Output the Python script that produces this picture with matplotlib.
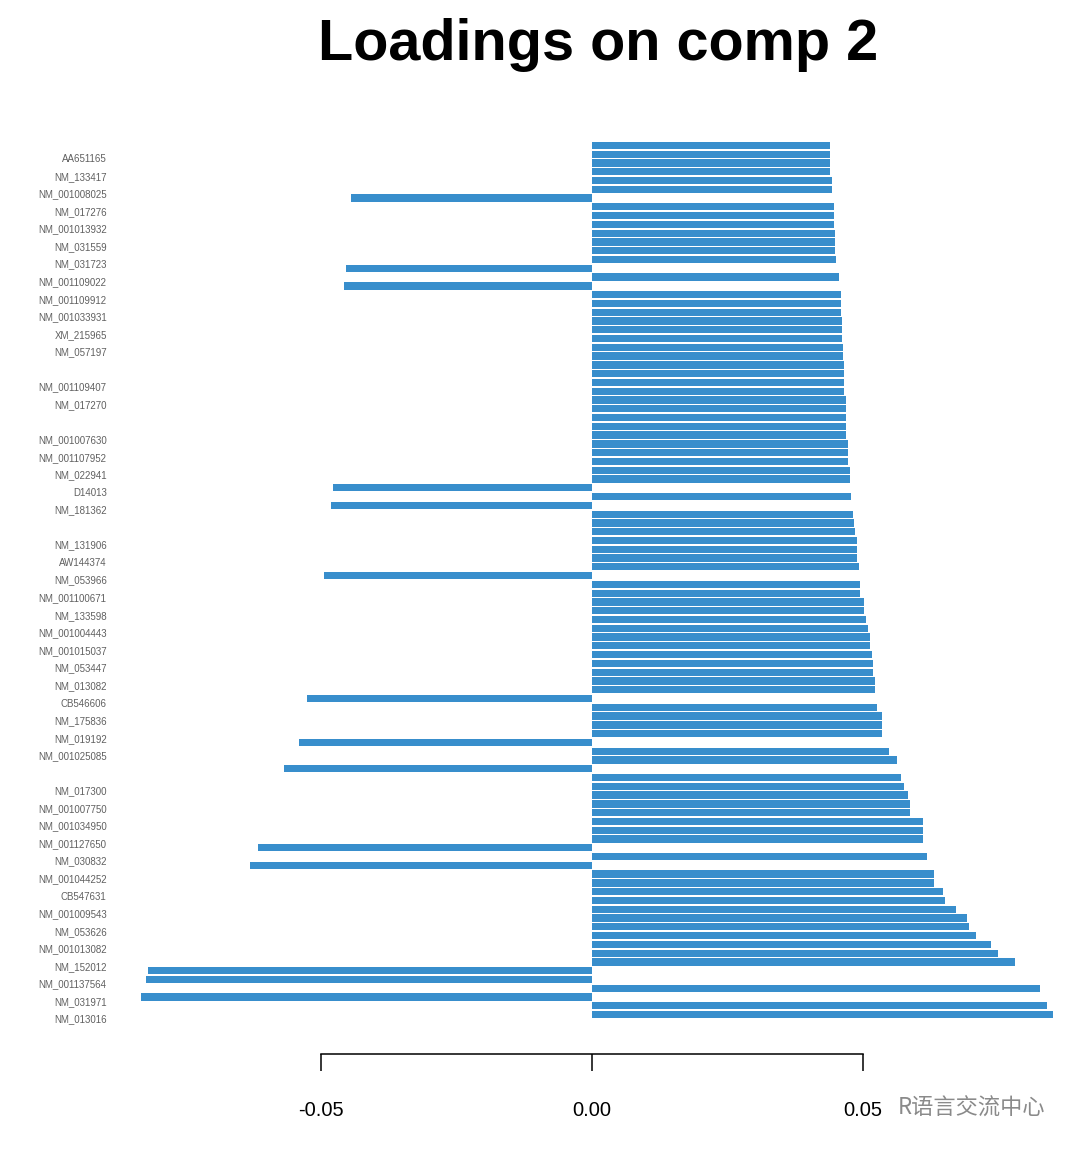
import matplotlib.pyplot as plt
import numpy as np

# loadings, listed from the top bar to the bottom bar
loadings = [
    0.0439, 0.0439, 0.0439, 0.0439, 0.0443, 0.0443, -0.0445, 0.0446, 0.0447, 0.0447,
    0.0448, 0.0448, 0.0449, 0.0450, -0.0454, 0.0455, -0.0458, 0.0459, 0.0459, 0.0460,
    0.0462, 0.0462, 0.0462, 0.0463, 0.0463, 0.0465, 0.0465, 0.0465, 0.0466, 0.0468,
    0.0469, 0.0469, 0.0469, 0.0469, 0.0472, 0.0472, 0.0472, 0.0476, 0.0476, -0.0477,
    0.0478, -0.0482, 0.0482, 0.0483, 0.0486, 0.0489, 0.0489, 0.0489, 0.0492, -0.0494,
    0.0494, 0.0494, 0.0502, 0.0502, 0.0505, 0.0509, 0.0513, 0.0513, 0.0516, 0.0519,
    0.0519, 0.0522, 0.0522, -0.0525, 0.0526, 0.0535, 0.0535, 0.0535, -0.0540, 0.0548,
    0.0563, -0.0568, 0.0570, 0.0576, 0.0583, 0.0587, 0.0587, 0.0611, 0.0611, 0.0611,
    -0.0616, 0.0618, -0.0630, 0.0631, 0.0631, 0.0648, 0.0651, 0.0672, 0.0692, 0.0696,
    0.0708, 0.0736, 0.0749, 0.0780, -0.0820, -0.0823, 0.0827, -0.0832, 0.0840, 0.0851,
]

# labels drawn on every second bar (2nd, 4th, ... from the top); "" = label dropped
gene_labels = [
    "AA651165", "NM_133417", "NM_001008025", "NM_017276", "NM_001013932",
    "NM_031559", "NM_031723", "NM_001109022", "NM_001109912", "NM_001033931",
    "XM_215965", "NM_057197", "", "NM_001109407", "NM_017270",
    "", "NM_001007630", "NM_001107952", "NM_022941", "D14013",
    "NM_181362", "", "NM_131906", "AW144374", "NM_053966",
    "NM_001100671", "NM_133598", "NM_001004443", "NM_001015037", "NM_053447",
    "NM_013082", "CB546606", "NM_175836", "NM_019192", "NM_001025085",
    "", "NM_017300", "NM_001007750", "NM_001034950", "NM_001127650",
    "NM_030832", "NM_001044252", "CB547631", "NM_001009543", "NM_053626",
    "NM_001013082", "NM_152012", "NM_001137564", "NM_031971", "NM_013016",
]

x_ticks = [-0.05, 0.0, 0.05]
x_ticklabels = ['-0.05', '0.00', '0.05']

fig = plt.figure(figsize=(10.8, 11.55), dpi=100)
ax = fig.add_axes([115 / 1080, 1 - 1019 / 1155, 962 / 1080, 878 / 1155])

pos = np.arange(len(loadings))
ax.barh(pos, loadings, height=0.83, color='#388ECC', edgecolor='none')

ax.set_xlim(-0.088, 0.0895)
ax.set_ylim(len(loadings) - 0.5, -0.5)

ax.tick_params(axis='y', length=0, pad=6, labelsize=7, labelcolor='#606060',
               labelfontfamily='Liberation Sans')
ax.tick_params(axis='x', length=12, width=1.1, direction='out', pad=22,
               labelsize=14.5, labelfontfamily='Liberation Sans')

# axis labels on every other bar
ax.set_yticks(pos[1::2])
ax.set_yticklabels(gene_labels)
for lab in ax.get_yticklabels():
    lab.set_va('top')

ax.set_xticks(x_ticks)
ax.set_xticklabels(x_ticklabels)

for side in ['top', 'right', 'left']:
    ax.spines[side].set_visible(False)
ax.spines['bottom'].set_position(('outward', 25))
ax.spines['bottom'].set_bounds(-0.05, 0.05)
ax.spines['bottom'].set_linewidth(1.1)

fig.text(598 / 1080, 1 - 45 / 1155, 'Loadings on comp 2', ha='center', va='center',
         fontsize=41.5, fontweight='bold', family='Liberation Sans')

# watermark
fig.text(1045 / 1080, 1 - 1108 / 1155, 'R语言交流中心', ha='right', va='center',
         fontsize=16, color='#8a8a8a', family=['Noto Sans CJK SC', 'DejaVu Sans'])

plt.savefig('out.png', dpi=100)
plt.close()
